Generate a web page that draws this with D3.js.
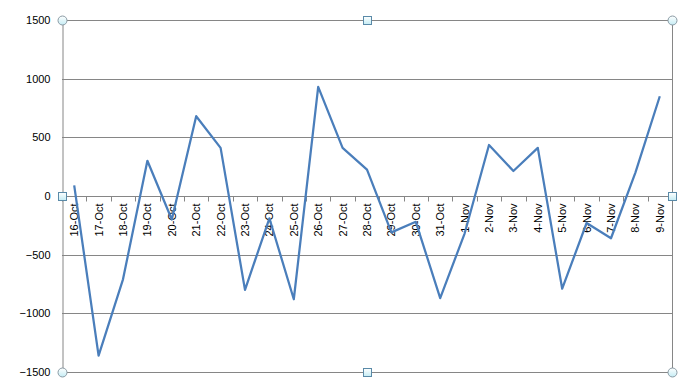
<!DOCTYPE html>
<html>
<head>
<meta charset="utf-8">
<script src="https://cdn.jsdelivr.net/npm/d3@7"></script>
<style>
  body { margin: 0; background: #fff; }
  text { font-family: "Liberation Sans", Arial, sans-serif; }
</style>
</head>
<body>
<div id="chart-area"></div>
<script>
const dates = ['16-Oct', '17-Oct', '18-Oct', '19-Oct', '20-Oct', '21-Oct', '22-Oct', '23-Oct',
    '24-Oct', '25-Oct', '26-Oct', '27-Oct', '28-Oct', '29-Oct', '30-Oct', '31-Oct',
    '1-Nov', '2-Nov', '3-Nov', '4-Nov', '5-Nov', '6-Nov', '7-Nov', '8-Nov', '9-Nov']
const values = [90, -1360, -710, 300, -200, 680, 410, -800,
    -190, -880, 930, 410, 225, -310, -220, -870,
    -320, 435, 213, 410, -790, -230, -360, 200, 850]
const yTicks = [-1500, -1000, -500, 0, 500, 1000, 1500]

const margin = { left: 62, right: 24, top: 20, bottom: 18 }
const width = 696 - margin.left - margin.right
const height = 390 - margin.top - margin.bottom

const svg = d3.select('#chart-area').append('svg')
    .attr('width', 696)
    .attr('height', 390)

const g = svg.append('g')
    .attr('transform', `translate(${margin.left}, ${margin.top})`)

const xScale = d3.scaleBand()
    .domain(dates)
    .range([0, width])

const yScale = d3.scaleLinear()
    .domain([-1500, 1500])
    .range([height, 0])

// gridlines
g.selectAll('.grid')
    .data(yTicks).enter().append('line')
    .attr('class', 'grid')
    .attr('x1', 0).attr('x2', width)
    .attr('y1', d => Math.round(yScale(d)) + 0.5)
    .attr('y2', d => Math.round(yScale(d)) + 0.5)
    .attr('stroke', '#868686')

// y axis
const yAxisCall = d3.axisLeft(yScale)
    .tickValues(yTicks)
    .tickFormat(d3.format('d'))
    .tickSize(0)
    .tickPadding(12)
const yAxis = g.append('g')
    .attr('class', 'y axis')
    .attr('transform', 'translate(0.5, 0)')
    .call(yAxisCall)
yAxis.select('.domain').attr('stroke', '#868686')
yAxis.selectAll('text').attr('font-size', '11px').attr('fill', '#000')

// right border
g.append('line')
    .attr('x1', width + 0.5).attr('x2', width + 0.5)
    .attr('y1', 0).attr('y2', height)
    .attr('stroke', '#868686')

// x axis at zero
const y0 = Math.round(yScale(0)) + 0.5
g.selectAll('.xtick')
    .data(d3.range(dates.length + 1)).enter().append('line')
    .attr('class', 'xtick')
    .attr('x1', i => Math.round(i * xScale.step()) + 0.5)
    .attr('x2', i => Math.round(i * xScale.step()) + 0.5)
    .attr('y1', y0).attr('y2', y0 + 5)
    .attr('stroke', '#868686')

g.selectAll('.xlabel')
    .data(dates).enter().append('text')
    .attr('class', 'xlabel')
    .attr('transform', d => `translate(${xScale(d) + xScale.bandwidth() / 2 + 4}, ${y0 + 7}) rotate(-90)`)
    .attr('text-anchor', 'end')
    .attr('font-size', '11px')
    .attr('fill', '#000')
    .text(d => d)

// series line
const line = d3.line()
    .x((d, i) => xScale(dates[i]) + xScale.bandwidth() / 2)
    .y(d => yScale(d))

g.append('path')
    .datum(values)
    .attr('d', line)
    .attr('fill', 'none')
    .attr('stroke', '#4a7ebb')
    .attr('stroke-width', 2.25)
    .attr('stroke-linejoin', 'round')

// selection handles
const defs = svg.append('defs')
const grad = defs.append('linearGradient')
    .attr('id', 'hg').attr('x1', 0).attr('y1', 0).attr('x2', 0).attr('y2', 1)
grad.append('stop').attr('offset', '0%').attr('stop-color', '#ffffff')
grad.append('stop').attr('offset', '100%').attr('stop-color', '#c4ecf4')

const corners = [[0, 0], [width, 0], [0, height], [width, height]]
g.selectAll('.hc')
    .data(corners).enter().append('circle')
    .attr('cx', d => d[0] + 0.5).attr('cy', d => d[1] + 0.5)
    .attr('r', 4.5)
    .attr('fill', 'url(#hg)')
    .attr('stroke', '#8a9aa4')

const mids = [[width / 2, 0], [width / 2, height], [0, yScale(0)], [width, yScale(0)]]
g.selectAll('.hs')
    .data(mids).enter().append('rect')
    .attr('x', d => Math.round(d[0]) - 3.5).attr('y', d => Math.round(d[1]) - 3.5)
    .attr('width', 8).attr('height', 8)
    .attr('fill', 'url(#hg)')
    .attr('stroke', '#5a8aa8')
</script>
</body>
</html>
